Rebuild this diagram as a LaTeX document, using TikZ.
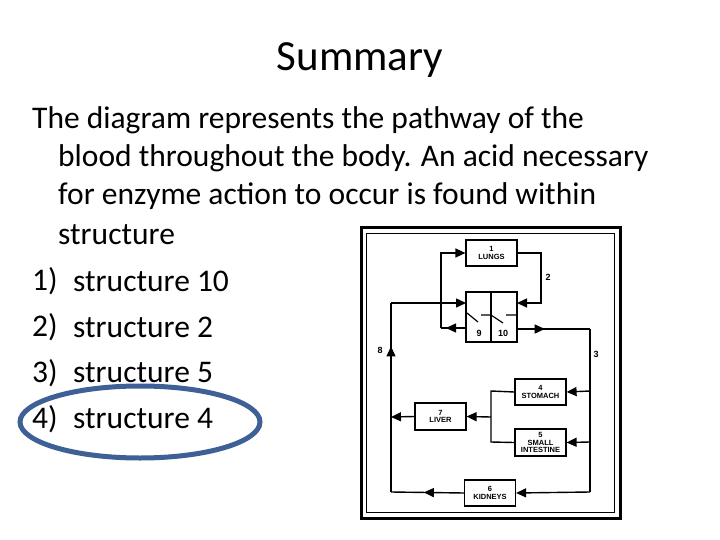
\documentclass[tikz,border=0pt]{standalone}
\usepackage{fontspec}
\setmainfont{Carlito}
\usetikzlibrary{arrows.meta,decorations.markings}
\begin{document}
\begin{tikzpicture}[x=1pt,y=-1pt,
  organ/.style={draw,line width=1.2pt,minimum width=51pt,inner sep=0pt,font=\fontspec{Liberation Sans}\bfseries\fontsize{7.5}{7.5}\selectfont,align=center},
  flow/.style={line width=1.4pt},
  tip/.style={-{Triangle[length=10pt,width=9pt]}},
  midarr/.style={postaction={decorate},decoration={markings,mark=at position #1 with {\arrow{Triangle[length=10pt,width=9pt]}}}},
  lbl/.style={font=\fontspec{Liberation Sans}\bfseries\fontsize{9}{9}\selectfont},
  body/.style={anchor=west,font=\fontsize{31.5}{33}\selectfont,inner sep=0pt}]
\useasboundingbox (0,0) rectangle (720,540);
\fill[white] (0,0) rectangle (720,540);
\node[font=\fontsize{43}{45}\selectfont] (title) at (360,60) {Summary};
\node[body] (l1) at (32,120) {The diagram represents the pathway of the};
\node[body] (l2) at (58,158) {blood throughout the body. An acid necessary};
\node[body] (l3) at (58,196) {for enzyme action to occur is found within};
\node[body] (l4) at (58,235) {structure};
\node[body] (n1) at (32,281) {1)}; \node[body] (a1) at (73,281) {structure 10};
\node[body] (n2) at (32,327) {2)}; \node[body] (a2) at (73,327) {structure 2};
\node[body] (n3) at (32,373) {3)}; \node[body] (a3) at (73,373) {structure 5};
\node[body] (n4) at (32,419) {4)}; \node[body] (a4) at (73,419) {structure 4};
\draw[line width=5pt,color={rgb,255:red,62;green,96;blue,150}] (140,422) ellipse [x radius=120,y radius=36];
% frame
\draw[line width=3pt] (361,228) rectangle (620,518);
\draw[line width=1.5pt] (366.5,233.5) rectangle (614.5,512.5);
% boxes
\node[organ,minimum height=26pt] (lungs) at (491.5,253) {1\\LUNGS};
\draw[line width=1.2pt] (466,292) rectangle (517,342);
\coordinate (heartL) at (466,303); \coordinate (heartR) at (517,303);
\coordinate (h9) at (466,328); \coordinate (h10) at (517,329);
\draw[line width=1.2pt] (491,292) -- (491,342);
\node[lbl] (s9) at (479,333) {9};
\node[lbl] (s10) at (503,333) {10};
\draw[line width=1.2pt] (467,313) -- (478,322) (481,315) -- (491,315) -- (503,323) (506,315) -- (517,315);
\node[organ,minimum height=26pt] (stom) at (540.5,392) {4\\STOMACH};
\node[organ,minimum height=27pt] (si) at (540.5,442.5) {5\\SMALL\\INTESTINE};
\node[organ,minimum height=27pt] (liver) at (440.5,416.5) {7\\LIVER};
\node[organ,minimum height=26pt] (kid) at (490,493) {6\\KIDNEYS};
% flows
\draw[flow,tip] (441,328) -- (441,253) -- (lungs.west);
\draw[flow,midarr=0.8] (h9) -- (441,328);
\draw[flow,tip] (lungs.east) -- (541,253) -- (541,303) -- (heartR);
\node[lbl] (two) at (548,277) {2};
\draw[flow,midarr=0.38] (h10) -- (590,329);
\draw[flow] (590,329) -- (590,492);
\draw[flow,tip] (590,492) -- (kid.east);
\draw[flow,tip] (590,391) -- (stom.east);
\draw[flow,tip] (590,442) -- (si.east);
\node[lbl] (three) at (596,354) {3};
\draw[flow] (stom.west) -- (491,391) -- (491,442) -- (si.west);
\draw[flow,tip] (491,417) -- (liver.east);
\draw[flow,tip] (liver.west) -- (391,417);
\draw[flow,midarr=0.55] (kid.west) -- (391,492);
\draw[flow,midarr=0.77] (391,492) -- (391,303);
\draw[flow,tip] (391,303) -- (heartL);
\node[lbl] (eight) at (380,350) {8};
\end{tikzpicture}
\end{document}
